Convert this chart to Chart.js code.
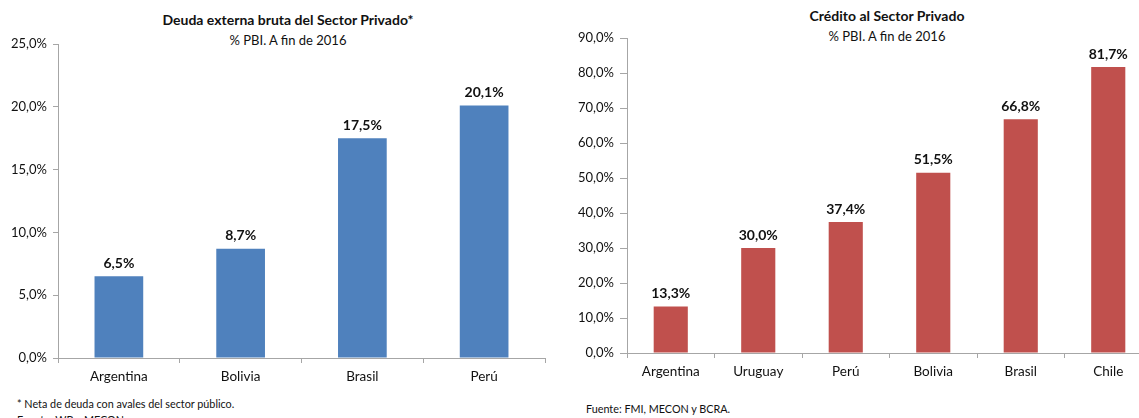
<!DOCTYPE html>
<html>
<head>
<meta charset="utf-8">
<script src="https://cdn.jsdelivr.net/npm/chart.js@4.4.1/dist/chart.umd.min.js"></script>
<style>
    html, body {
        margin: 0;
        padding: 0;
        width: 1139px;
        height: 418px;
        overflow: hidden;
        background: #ffffff;
        font-family: Lato, 'Open Sans', sans-serif;
        color: #111111;
    }
    .box {
        position: absolute;
    }
    .center {
        position: absolute;
        transform: translate(-50%, -50%);
        white-space: nowrap;
    }
    .title {
        font-weight: bold;
        font-size: 14px;
    }
    .subtitle {
        font-size: 13px;
    }
    .note {
        position: absolute;
        font-size: 10.8px;
        white-space: nowrap;
        transform: translateY(-50%);
    }
</style>
</head>
<body>
    <div class="center title" style="left:288px; top:19px;">Deuda externa bruta del Sector Privado*</div>
    <div class="center subtitle" style="left:288px; top:40px;">% PBI. A fin de 2016</div>
    <div class="box" style="left:0; top:0; width:560px; height:395px;">
        <canvas id="deudaChart"></canvas>
    </div>
    <div class="note" style="left:17px; top:403px;">* Neta de deuda con avales del sector público.</div>
    <div class="note" style="left:17px; top:419px;">Fuente: WB y MECON</div>

    <div class="center title" style="left:887px; top:15px;">Crédito al Sector Privado</div>
    <div class="center subtitle" style="left:887px; top:36px;">% PBI. A fin de 2016</div>
    <div class="box" style="left:570px; top:0; width:600px; height:390px;">
        <canvas id="creditoChart"></canvas>
    </div>
    <div class="note" style="left:586px; top:408px;">Fuente: FMI, MECON y BCRA.</div>

<script>
// Deuda externa bruta (% PBI)
const deudaPaises = ['Argentina', 'Bolivia', 'Brasil', 'Perú'];
const deudaValores = [6.5, 8.7, 17.5, 20.1];

// Crédito al sector privado (% PBI)
const creditoPaises = ['Argentina', 'Uruguay', 'Perú', 'Bolivia', 'Brasil', 'Chile'];
const creditoValores = [13.3, 30.0, 37.4, 51.5, 66.8, 81.7];

const FONT = "Lato, 'Open Sans', sans-serif";
const AXIS_GRAY = '#a6a6a6';

function pct(v) {
    return Number(v).toFixed(1).replace('.', ',') + '%';
}

// Etiquetas de valor encima de cada barra
const valueLabels = {
    id: 'valueLabels',
    afterDatasetsDraw(chart) {
        const ctx = chart.ctx;
        const meta = chart.getDatasetMeta(0);
        const data = chart.data.datasets[0].data;
        ctx.save();
        ctx.font = 'bold 14px ' + FONT;
        ctx.fillStyle = '#111111';
        ctx.textAlign = 'center';
        ctx.textBaseline = 'bottom';
        meta.data.forEach((bar, i) => {
            ctx.fillText(pct(data[i]), bar.x, bar.y - 6);
        });
        ctx.restore();
    }
};

function makeChart(id, labels, values, color, opts) {
    const ctx = document.getElementById(id).getContext('2d');
    return new Chart(ctx, {
        type: 'bar',
        data: {
            labels: labels,
            datasets: [{
                data: values,
                backgroundColor: color,
                borderWidth: 0,
                barPercentage: opts.bar,
                categoryPercentage: 1
            }]
        },
        options: {
            responsive: true,
            maintainAspectRatio: false,
            animation: false,
            layout: {
                padding: { top: opts.top, right: opts.right, bottom: 0, left: 0 }
            },
            plugins: {
                legend: { display: false },
                tooltip: { enabled: false }
            },
            scales: {
                x: {
                    afterFit: function(scale) { scale.height = opts.xHeight; },
                    border: { display: true, color: AXIS_GRAY, width: 1 },
                    grid: {
                        offset: true,
                        drawOnChartArea: false,
                        drawTicks: true,
                        tickLength: 5,
                        color: AXIS_GRAY
                    },
                    ticks: {
                        color: '#111111',
                        padding: 6,
                        font: { family: FONT, size: 13.5 }
                    }
                },
                y: {
                    min: 0,
                    max: opts.max,
                    afterFit: function(scale) { scale.width = opts.yWidth; },
                    border: { display: true, color: AXIS_GRAY, width: 1 },
                    grid: {
                        drawOnChartArea: false,
                        drawTicks: true,
                        tickLength: opts.tick,
                        color: AXIS_GRAY
                    },
                    ticks: {
                        stepSize: opts.step,
                        padding: opts.tickPad,
                        color: '#111111',
                        font: { family: FONT, size: 13 },
                        callback: function(value) { return pct(value); }
                    }
                }
            }
        },
        plugins: [valueLabels]
    });
}

makeChart('deudaChart', deudaPaises, deudaValores, '#4f81bd', {
    bar: 0.4, top: 44, right: 15, xHeight: 37, yWidth: 58,
    max: 25, step: 5, tick: 5, tickPad: 6
});

makeChart('creditoChart', creditoPaises, creditoValores, '#c0504d', {
    bar: 0.39, top: 38, right: 18, xHeight: 37, yWidth: 57,
    max: 90, step: 10, tick: 7, tickPad: 6
});
</script>
</body>
</html>
